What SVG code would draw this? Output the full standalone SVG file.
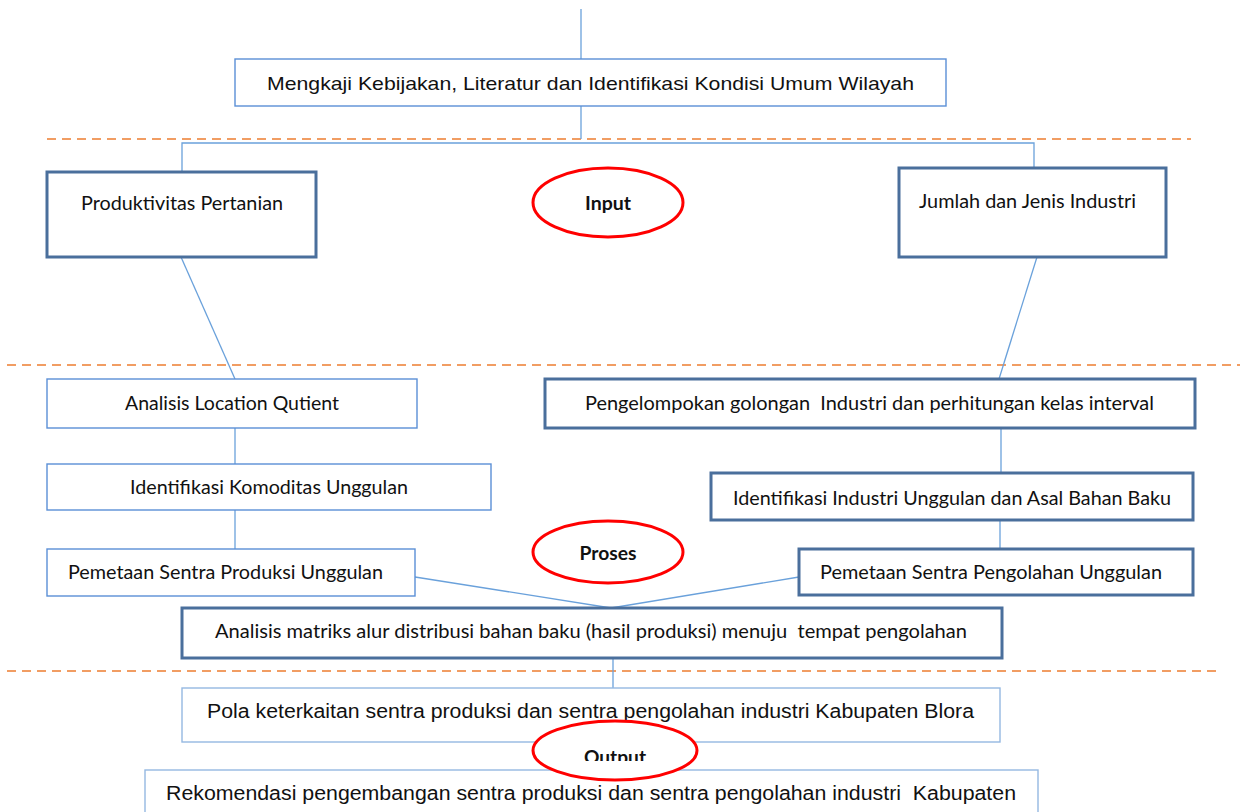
<svg xmlns="http://www.w3.org/2000/svg" width="1242" height="812" viewBox="0 0 1242 812">
<style>
.thin{fill:#fff;stroke:#5B8FD6;stroke-width:1.4}
.light{fill:#fff;stroke:#95B8E2;stroke-width:1.4}
.thick{fill:#fff;stroke:#4A6F9C;stroke-width:3}
.con{fill:none;stroke:#6AA1DB;stroke-width:1.3}
.dash{fill:none;stroke:#ED7D31;stroke-width:1.3;stroke-dasharray:9 6}
.oval{fill:#fff;stroke:#FF0000;stroke-width:3}
.ar{font-family:"Liberation Sans",Arial,sans-serif;fill:#111}
.ca{font-family:Lato,"Open Sans",sans-serif;font-size:18.5px;fill:#111}
.lbl{font-family:Lato,"Open Sans",sans-serif;font-size:19px;font-weight:bold;fill:#111;text-anchor:middle}
</style>
<defs>
<clipPath id="outClip"><rect x="520" y="720" width="200" height="41"/></clipPath>
</defs>
<rect width="1242" height="812" fill="#fff"/>
<g id="dividers">
<line class="dash" x1="47" y1="139" x2="1191" y2="139"/>
<line class="dash" x1="7" y1="365" x2="1240" y2="365"/>
<line class="dash" x1="7" y1="671" x2="1219" y2="671"/>
</g>
<g id="connectors">
<line class="con" x1="581" y1="9" x2="581" y2="59"/>
<line class="con" x1="581" y1="106" x2="581" y2="139"/>
<polyline class="con" points="182,172 182,143 1034,143 1034,172"/>
<line class="con" x1="181" y1="257" x2="235" y2="379"/>
<line class="con" x1="1037" y1="257" x2="999" y2="379"/>
<line class="con" x1="235" y1="428" x2="235" y2="465"/>
<line class="con" x1="235" y1="510" x2="235" y2="549"/>
<line class="con" x1="1001" y1="428" x2="1001" y2="473"/>
<line class="con" x1="1000" y1="520" x2="1000" y2="549"/>
<polyline class="con" points="415,577 611,608 799,577"/>
<line class="con" x1="613" y1="658" x2="613" y2="691"/>
</g>
<g id="n-mengkaji">
<rect class="thin" x="235" y="59" width="711" height="47"/>
<text class="ar" x="267" y="90" font-size="19" textLength="647" lengthAdjust="spacingAndGlyphs">Mengkaji Kebijakan, Literatur dan Identifikasi Kondisi Umum Wilayah</text>
</g>
<g id="n-produktivitas">
<rect class="thick" x="47" y="172" width="269" height="85"/>
<text class="ca" x="81" y="210" textLength="202" lengthAdjust="spacingAndGlyphs">Produktivitas Pertanian</text>
</g>
<g id="n-input">
<ellipse class="oval" cx="608" cy="202.5" rx="75" ry="34.5"/>
<text class="lbl" x="608" y="210" textLength="46" lengthAdjust="spacingAndGlyphs">Input</text>
</g>
<g id="n-jumlah">
<rect class="thick" x="899" y="168" width="267" height="89"/>
<text class="ca" x="919" y="208" textLength="217" lengthAdjust="spacingAndGlyphs">Jumlah dan Jenis Industri</text>
</g>
<g id="n-lq">
<rect class="thin" x="47" y="379" width="370" height="49"/>
<text class="ca" x="125" y="410" textLength="214" lengthAdjust="spacingAndGlyphs">Analisis Location Qutient</text>
</g>
<g id="n-komoditas">
<rect class="thin" x="47" y="464" width="444" height="46"/>
<text class="ca" x="130" y="494" textLength="278" lengthAdjust="spacingAndGlyphs">Identifikasi Komoditas Unggulan</text>
</g>
<g id="n-sentra-produksi">
<rect class="thin" x="47" y="549" width="368" height="47"/>
<text class="ca" x="68" y="579" textLength="315" lengthAdjust="spacingAndGlyphs">Pemetaan Sentra Produksi Unggulan</text>
</g>
<g id="n-pengelompokan">
<rect class="thick" x="545" y="379" width="650" height="49"/>
<text class="ca" x="585" y="410" xml:space="preserve" textLength="569" lengthAdjust="spacingAndGlyphs">Pengelompokan golongan  Industri dan perhitungan kelas interval</text>
</g>
<g id="n-industri-unggulan">
<rect class="thick" x="711" y="473" width="482" height="47"/>
<text class="ca" x="733" y="505" textLength="438" lengthAdjust="spacingAndGlyphs">Identifikasi Industri Unggulan dan Asal Bahan Baku</text>
</g>
<g id="n-proses">
<ellipse class="oval" cx="608" cy="552" rx="75" ry="31"/>
<text class="lbl" x="608" y="560" textLength="57" lengthAdjust="spacingAndGlyphs">Proses</text>
</g>
<g id="n-sentra-pengolahan">
<rect class="thick" x="799" y="549" width="394" height="46"/>
<text class="ca" x="820" y="579" textLength="342" lengthAdjust="spacingAndGlyphs">Pemetaan Sentra Pengolahan Unggulan</text>
</g>
<g id="n-matriks">
<rect class="thick" x="182" y="608" width="820" height="50"/>
<text class="ca" x="215" y="638" xml:space="preserve" textLength="752" lengthAdjust="spacingAndGlyphs">Analisis matriks alur distribusi bahan baku (hasil produksi) menuju  tempat pengolahan</text>
</g>
<g id="n-pola">
<rect class="light" x="182" y="688" width="818" height="54"/>
<text class="ar" x="207" y="718" font-size="20" textLength="767" lengthAdjust="spacingAndGlyphs">Pola keterkaitan sentra produksi dan sentra pengolahan industri Kabupaten Blora</text>
</g>
<g id="n-rekomendasi">
<rect class="light" x="145" y="770" width="893" height="60"/>
<text class="ar" x="166" y="800" font-size="19.5" xml:space="preserve" textLength="850" lengthAdjust="spacingAndGlyphs">Rekomendasi pengembangan sentra produksi dan sentra pengolahan industri  Kabupaten</text>
</g>
<g id="n-output">
<ellipse class="oval" cx="615" cy="750.5" rx="82" ry="29.5"/>
<text class="lbl" x="615" y="764" clip-path="url(#outClip)" textLength="62" lengthAdjust="spacingAndGlyphs">Output</text>
</g>
</svg>
